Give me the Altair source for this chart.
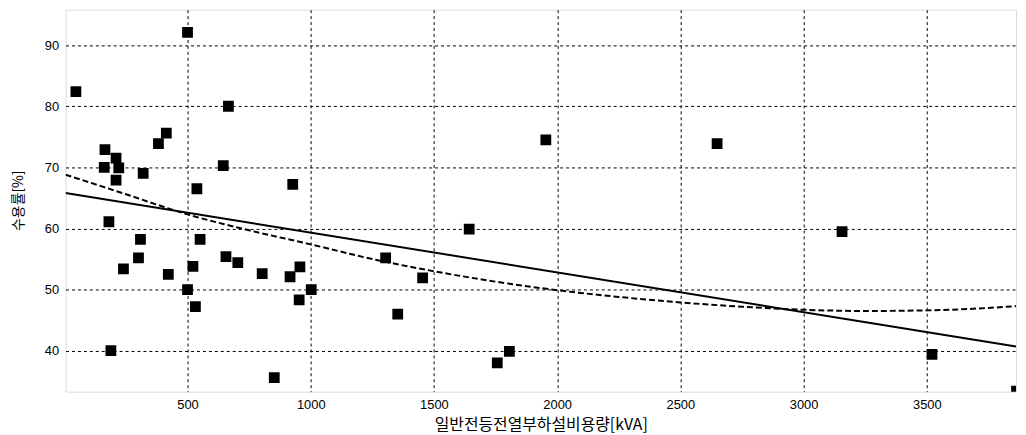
import altair as alt
import pandas as pd

# Scatter data: capacity [kVA] vs demand factor [%]
cap_kva = [47, 500, 666, 165, 210, 162, 221, 210, 320, 382, 414, 645, 538, 927,
           181, 309, 301, 240, 422, 500, 522, 532, 551, 656, 704, 803, 916, 956,
           953, 1002, 189, 852,
           1954, 1643, 1304, 1454, 1353, 1757, 1806,
           2649, 3156, 3521, 3864]
demand_pct = [82.4, 92.1, 80.0, 72.9, 71.5, 70.0, 69.9, 67.9, 69.0, 73.9, 75.6, 70.3, 66.5, 67.2,
              61.1, 58.2, 55.2, 53.4, 52.5, 50.0, 53.8, 47.2, 58.2, 55.4, 54.4, 52.6, 52.1, 53.7,
              48.3, 50.0, 40.0, 35.6,
              74.5, 59.9, 55.2, 51.9, 46.0, 38.0, 39.9,
              73.9, 59.5, 39.4, 33.4]

# Linear fit (solid)
lin_x = [5, 3862]
lin_y = [65.8, 40.7]

# Curved fit (dashed)
curve_x = [5, 250, 500, 750, 1000, 1250, 1500, 1750, 2000, 2250, 2500, 2750,
           3000, 3250, 3500, 3750, 3862]
curve_y = [68.8, 65.6, 62.3, 59.7, 57.4, 55.0, 53.0, 51.3, 49.9, 48.8, 47.9, 47.2,
           46.7, 46.5, 46.6, 47.0, 47.3]

x_ticks = [500, 1000, 1500, 2000, 2500, 3000, 3500]
y_ticks = [40, 50, 60, 70, 80, 90]

pts = pd.DataFrame({"x": cap_kva, "y": demand_pct})
lin = pd.DataFrame({"x": lin_x, "y": lin_y})
crv = pd.DataFrame({"x": curve_x, "y": curve_y})

xs = alt.Scale(domain=[5, 3862], nice=False, zero=False)
ys = alt.Scale(domain=[33.3, 95.8], nice=False, zero=False)

xenc = alt.X("x:Q", scale=xs, axis=alt.Axis(
    values=x_ticks, format="d", title="일반전등전열부하설비용량[kVA]", grid=True,
    gridColor="black", gridDash=[3, 3], gridOpacity=1, gridWidth=1,
    domain=False, ticks=False, labelPadding=7, labelFontSize=13,
    labelFont="Liberation Sans", labelColor="black",
    titleFont="Noto Sans CJK KR", titleFontSize=16, titleFontWeight="normal",
    titleColor="black", titleY=33, titleBaseline="middle"))
yenc = alt.Y("y:Q", scale=ys, axis=alt.Axis(
    values=y_ticks, format="d", title="수용률[%]", grid=True,
    gridColor="black", gridDash=[3, 3], gridOpacity=1, gridWidth=1,
    domain=False, ticks=False, labelPadding=7, labelFontSize=13,
    labelFont="Liberation Sans", labelColor="black",
    titleFont="Noto Sans CJK KR", titleFontSize=14, titleFontWeight="normal",
    titleColor="black", titleX=-47, titleY=192, titleAngle=-90,
    titleBaseline="middle", titleAlign="center"))

points = alt.Chart(pts).mark_square(size=118, color="black", opacity=1, clip=True).encode(
    x=xenc, y=yenc)
line_lin = alt.Chart(lin).mark_line(color="black", strokeWidth=2, clip=True).encode(
    x=alt.X("x:Q", scale=xs), y=alt.Y("y:Q", scale=ys))
line_crv = alt.Chart(crv).mark_line(color="black", strokeWidth=2, strokeDash=[6, 3],
                                    interpolate="monotone", clip=True).encode(
    x=alt.X("x:Q", scale=xs), y=alt.Y("y:Q", scale=ys))

chart = alt.layer(points, line_lin, line_crv).properties(
    width=958, height=385,
    autosize=alt.AutoSizeParams(type="none"),
    padding={"left": 58, "top": 0, "right": 2, "bottom": 42},
).configure_view(stroke="black", strokeWidth=1.5).configure(background="white")

chart.save("out.html", embed_options={"renderer": "svg", "actions": False})
